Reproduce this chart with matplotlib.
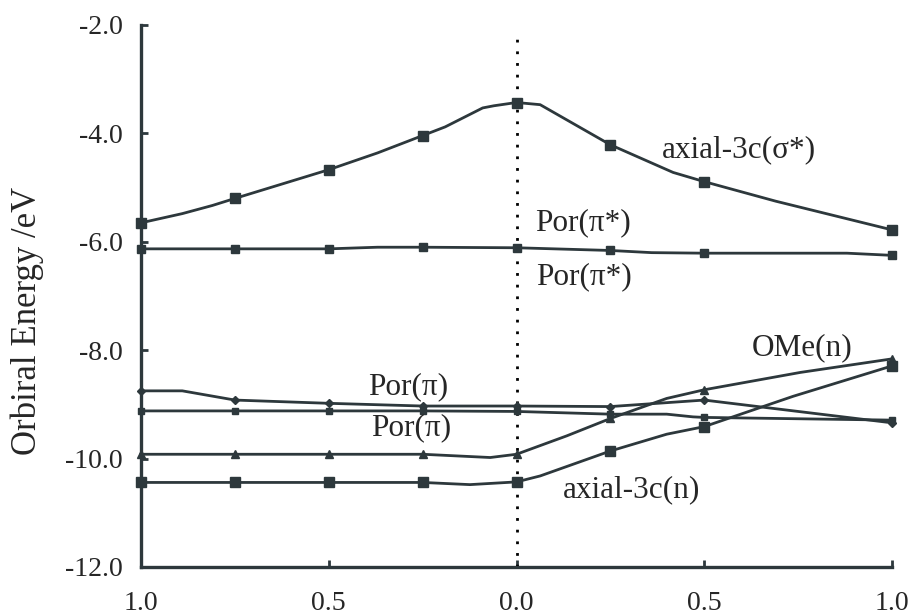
import matplotlib
matplotlib.use("Agg")
import matplotlib.pyplot as plt

LINE_COLOR = "#2d383c"
TEXT_COLOR = "#262626"

# x runs from one end (-1) through the midpoint (0) to the other end (1)
MARK_X = [-1.0, -0.75, -0.5, -0.25, 0.0, 0.25, 0.5, 1.0]
XTICKS = [-1.0, -0.5, 0.0, 0.5, 1.0]
XTICK_LABELS = ["1.0", "0.5", "0.0", "0.5", "1.0"]
YTICKS = [-12.0, -10.0, -8.0, -6.0, -4.0, -2.0]

sigma_x = [-1.0, -0.89, -0.81, -0.75, -0.5, -0.37, -0.25, -0.19, -0.09,
           -0.06, 0.0, 0.063, 0.25, 0.417, 0.5, 0.69, 1.0]
sigma_y = [-5.65, -5.48, -5.33, -5.20, -4.67, -4.36, -4.04, -3.88, -3.53,
           -3.49, -3.43, -3.47, -4.21, -4.72, -4.89, -5.25, -5.78]

pistar_x = [-1.0, -0.75, -0.5, -0.37, -0.25, 0.0, 0.25, 0.36, 0.5, 0.88, 1.0]
pistar_y = [-6.13, -6.13, -6.13, -6.10, -6.10, -6.11, -6.16, -6.20, -6.21,
            -6.21, -6.25]

pi_a_x = [-1.0, -0.89, -0.75, -0.5, -0.25, 0.0, 0.25, 0.5, 1.0]
pi_a_y = [-8.75, -8.75, -8.92, -8.98, -9.03, -9.03, -9.04, -8.92, -9.34]

pi_b_x = [-1.0, -0.75, -0.5, -0.25, 0.0, 0.25, 0.4, 0.47, 0.5, 1.0]
pi_b_y = [-9.12, -9.12, -9.12, -9.12, -9.13, -9.18, -9.18, -9.23, -9.24, -9.29]

ome_x = [-1.0, -0.75, -0.5, -0.25, -0.07, 0.0, 0.134, 0.25, 0.40, 0.5,
         0.756, 1.0]
ome_y = [-9.92, -9.92, -9.92, -9.92, -9.98, -9.92, -9.58, -9.26, -8.89,
         -8.73, -8.41, -8.16]

axn_x = [-1.0, -0.75, -0.5, -0.25, -0.124, 0.0, 0.063, 0.25, 0.40, 0.5,
         0.737, 1.0]
axn_y = [-10.44, -10.44, -10.44, -10.44, -10.48, -10.43, -10.32, -9.86,
         -9.55, -9.41, -8.85, -8.29]

SERIES = [
    (sigma_x, sigma_y, "s", 7.0),
    (pistar_x, pistar_y, "s", 6.0),
    (pi_a_x, pi_a_y, "D", 4.5),
    (pi_b_x, pi_b_y, "s", 5.0),
    (ome_x, ome_y, "^", 6.0),
    (axn_x, axn_y, "s", 7.0),
]

LABELS = [
    ("axial-3c(σ*)", 662, 150),
    ("Por(π*)", 535, 223),
    ("Por(π*)", 536, 277),
    ("Por(π)", 368, 387),
    ("Por(π)", 371, 428),
    ("OMe(n)", 752, 348),
    ("axial-3c(n)", 563, 490),
]

plt.rcParams["font.family"] = ["Liberation Serif", "DejaVu Serif"]

W, H = 923, 616
fig = plt.figure(figsize=(W / 100, H / 100), dpi=100)
ax = fig.add_axes([141 / W, 1 - 567 / H, (892 - 141) / W, (567 - 25) / H])

for xs, ys, marker, ms in SERIES:
    idx = [i for i, x in enumerate(xs) if x in MARK_X]
    ax.plot(xs, ys, color=LINE_COLOR, lw=2.0, marker=marker, ms=ms,
            markevery=idx, mec=LINE_COLOR, mfc=LINE_COLOR, clip_on=False,
            zorder=3)

# dotted line at the midpoint
ax.axvline(0.0, ymin=0.0, ymax=0.976, color="black", lw=2.0,
           dashes=(1, 3.2), zorder=2)

ax.set_xlim(-1.0, 1.0)
ax.set_ylim(-12.0, -2.0)
ax.set_xticks(XTICKS)
ax.set_xticklabels(XTICK_LABELS)
ax.set_yticks(YTICKS)
ax.set_yticklabels([f"{v:.1f}" for v in YTICKS])

for side in ("top", "right"):
    ax.spines[side].set_visible(False)
for side in ("left", "bottom"):
    ax.spines[side].set_linewidth(2.4)
    ax.spines[side].set_color(LINE_COLOR)

ax.tick_params(axis="both", direction="in", length=5, width=2,
               color=LINE_COLOR, labelcolor=TEXT_COLOR, labelsize=20)
ax.tick_params(axis="y", pad=13)
ax.tick_params(axis="x", pad=17)

# axis title placed directly in figure coordinates
fig.text(27 / W, 1 - 321 / H, "Orbiral Energy /eV", fontsize=25,
         color=TEXT_COLOR, rotation=90, ha="center", va="center")

for text, px, py in LABELS:
    fig.text(px / W, 1 - py / H, text, fontsize=22.5, color=TEXT_COLOR,
             ha="left", va="center")

fig.savefig("out.png", dpi=100)
